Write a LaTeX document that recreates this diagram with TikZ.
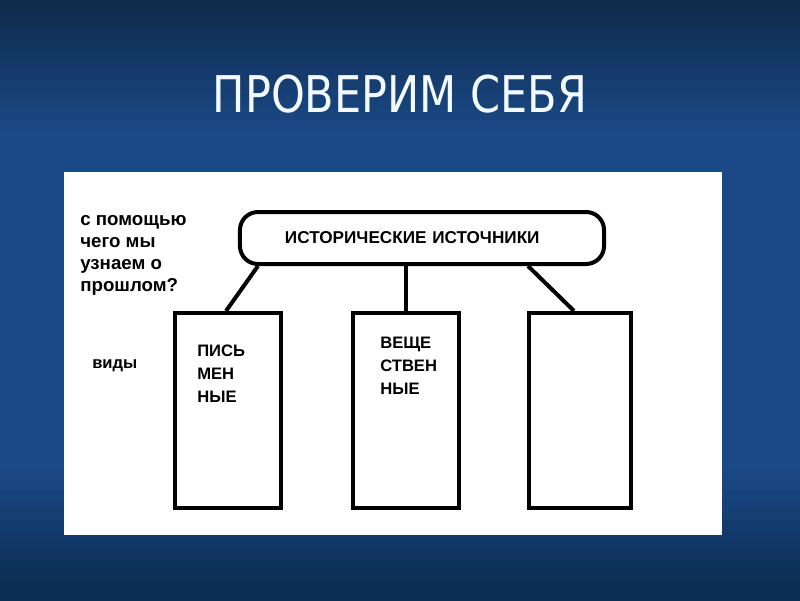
\documentclass[tikz,border=0pt]{standalone}
\usepackage{fontspec}
\usepackage{tikz}
\usetikzlibrary{positioning}
\setmainfont{Liberation Sans}
\newfontfamily\titlefont[FakeStretch=0.85]{DejaVu Sans}
\definecolor{slideTop}{HTML}{0E2B4A}
\definecolor{slideMid}{HTML}{1B4886}
\definecolor{slideBot}{HTML}{0B2F55}
\definecolor{titleInk}{HTML}{F2FAFF}
\tikzset{
  srcoval/.style={rectangle,draw=black,line width=1mm,rounded corners=4.5mm,fill=white,
    minimum width=91mm,minimum height=13mm,text width=68.5mm,align=left,inner xsep=0pt,
    font=\fontsize{12.2}{14}\selectfont\bfseries},
  kindbox/.style={rectangle,draw=black,line width=1mm,fill=white,
    minimum width=26.5mm,minimum height=48.75mm,inner sep=0pt},
  note/.style={inner sep=0pt,anchor=base west,font=\fontsize{11.8}{14}\selectfont\bfseries},
  question/.style={note,font=\fontsize{13.3}{15}\selectfont\bfseries},
  link/.style={line width=1mm}
}
\begin{document}
\begin{tikzpicture}[x=0.025cm,y=-0.025cm]
  \useasboundingbox (0,0) rectangle (800,600);
  % slide background, in bands
  \foreach \k in {0,...,29} {
    \pgfmathtruncatemacro\p{min(100,(10*\k+5)/1.3)}
    \fill[slideMid!\p!slideTop] (0,10*\k) rectangle (800,10*\k+10.5);
  }
  \foreach \k in {30,...,59} {
    \pgfmathtruncatemacro\p{max(0,min(100,(10*\k-465)/1.1))}
    \fill[slideBot!\p!slideMid] (0,10*\k) rectangle (800,10*\k+10.5);
  }
  \fill[white] (64,172) rectangle (722,535);
  \node[inner sep=0pt,text=titleInk,font=\titlefont\fontsize{36}{40}\selectfont] (title) at (400,94.5) {ПРОВЕРИМ СЕБЯ};
  % question and kinds
  \foreach \txt [count=\i] in {с помощью,чего мы,узнаем о,прошлом?}
    \node[question] (q\i) at (80,203+22*\i) {\txt};
  \node[note] (kinds) at (92,368) {виды};
  % main node and boxes
  \node[srcoval] (src) at (422,238) {ИСТОРИЧЕСКИЕ ИСТОЧНИКИ};
  \node[kindbox] (b1) at (228,410.5) {};
  \node[kindbox] (b2) at (406,410.5) {};
  \node[kindbox,minimum width=25.5mm] (b3) at (580,410.5) {};
  \foreach \txt [count=\i] in {ПИСЬ,МЕН,НЫЕ}
    \node[note] (w\i) at (197,333+23*\i) {\txt};
  \foreach \txt [count=\i] in {ВЕЩЕ,СТВЕН,НЫЕ}
    \node[note] (m\i) at (380,325+23*\i) {\txt};
  \draw[link] ([xshift=5mm]src.south west) -- ([xshift=13.25mm]b1.north west);
  \draw[link] (b2.north |- src.south) -- (b2.north);
  \draw[link] ([xshift=-19.5mm]src.south east) -- ([xshift=11.75mm]b3.north west);
\end{tikzpicture}
\end{document}
